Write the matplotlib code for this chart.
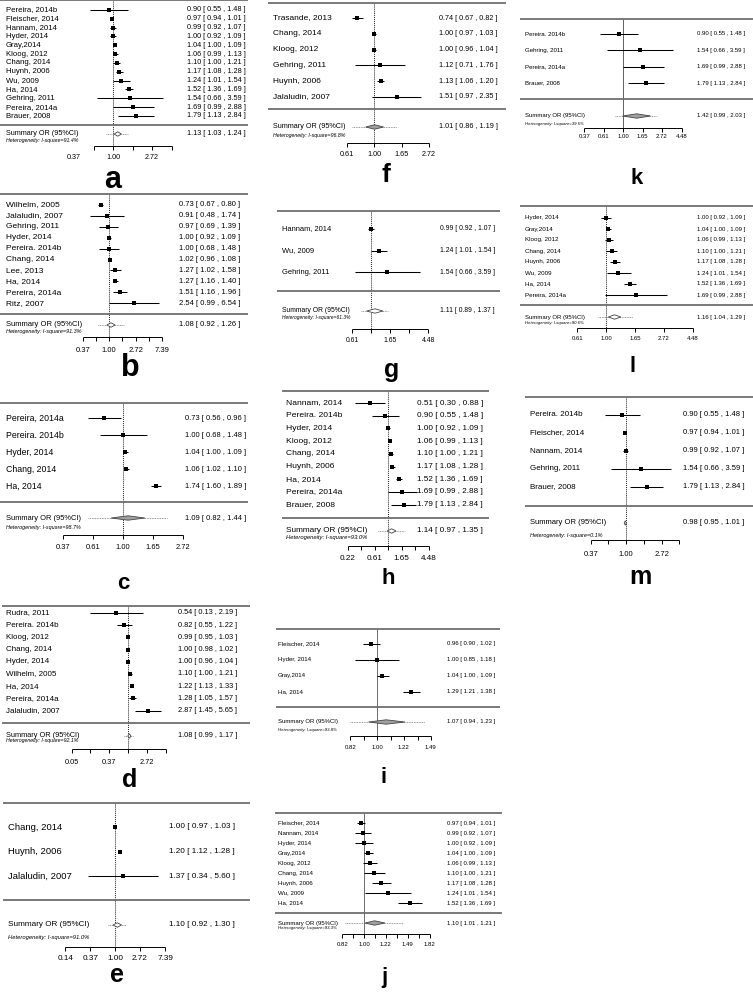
import numpy as np
import matplotlib
matplotlib.use("Agg")
import matplotlib.pyplot as plt

plt.rcParams['font.family'] = ['Liberation Sans', 'DejaVu Sans']

W, H = 753, 992

# ---- data (odds ratios, 95% CI) ----
a_studies = ['Pereira, 2014b', 'Fleischer, 2014', 'Hannam, 2014', 'Hyder, 2014', 'Gray,2014',
             'Kloog, 2012', 'Chang, 2014', 'Huynh, 2006', 'Wu, 2009', 'Ha, 2014',
             'Gehring, 2011', 'Pereira, 2014a', 'Brauer, 2008']
a_or = [0.90, 0.97, 0.99, 1.00, 1.04, 1.06, 1.10, 1.17, 1.24, 1.52, 1.54, 1.69, 1.79]
a_lo = [0.55, 0.94, 0.92, 0.92, 1.00, 0.99, 1.00, 1.08, 1.01, 1.36, 0.66, 0.99, 1.13]
a_hi = [1.48, 1.01, 1.07, 1.09, 1.09, 1.13, 1.21, 1.28, 1.54, 1.69, 3.59, 2.88, 2.84]
a_summary = [1.13, 1.03, 1.24]
a_pred = [0.84, 1.47]
a_i2 = '91.4'
a_ticklabels = ['0.37', '1.00', '2.72']

b_studies = ['Wilhelm, 2005', 'Jalaludin, 2007', 'Gehring, 2011', 'Hyder, 2014', 'Pereira. 2014b',
             'Chang, 2014', 'Lee, 2013', 'Ha, 2014', 'Pereira, 2014a', 'Ritz, 2007']
b_or = [0.73, 0.91, 0.97, 1.00, 1.00, 1.02, 1.27, 1.27, 1.51, 2.54]
b_lo = [0.67, 0.48, 0.69, 0.92, 0.68, 0.96, 1.02, 1.16, 1.16, 0.99]
b_hi = [0.80, 1.74, 1.39, 1.09, 1.48, 1.08, 1.58, 1.40, 1.96, 6.54]
b_summary = [1.08, 0.92, 1.26]
b_pred = [0.65, 1.76]
b_i2 = '91.3'
b_ticklabels = ['0.37', '1.00', '2.72', '7.39']

c_studies = ['Pereira, 2014a', 'Pereira. 2014b', 'Hyder, 2014', 'Chang, 2014', 'Ha, 2014']
c_or = [0.73, 1.00, 1.04, 1.06, 1.74]
c_lo = [0.56, 0.68, 1.00, 1.02, 1.60]
c_hi = [0.96, 1.48, 1.09, 1.10, 1.89]
c_summary = [1.09, 0.82, 1.44]
c_pred = [0.56, 2.08]
c_i2 = '98.7'
c_ticklabels = ['0.37', '0.61', '1.00', '1.65', '2.72']

d_studies = ['Rudra, 2011', 'Pereira. 2014b', 'Kloog, 2012', 'Chang, 2014', 'Hyder, 2014',
             'Wilhelm, 2005', 'Ha, 2014', 'Pereira, 2014a', 'Jalaludin, 2007']
d_or = [0.54, 0.82, 0.99, 1.00, 1.00, 1.10, 1.22, 1.28, 2.87]
d_lo = [0.13, 0.55, 0.95, 0.98, 0.96, 1.00, 1.13, 1.05, 1.45]
d_hi = [2.19, 1.22, 1.03, 1.02, 1.04, 1.21, 1.33, 1.57, 5.65]
d_summary = [1.08, 0.99, 1.17]
d_pred = [0.81, 1.30]
d_i2 = '92.1'
d_ticklabels = ['0.05', '0.37', '2.72']

e_studies = ['Chang, 2014', 'Huynh, 2006', 'Jalaludin, 2007']
e_or = [1.00, 1.20, 1.37]
e_lo = [0.97, 1.12, 0.34]
e_hi = [1.03, 1.28, 5.60]
e_summary = [1.10, 0.92, 1.30]
e_pred = [0.76, 1.55]
e_i2 = '91.0'
e_ticklabels = ['0.14', '0.37', '1.00', '2.72', '7.39']

f_studies = ['Trasande, 2013', 'Chang, 2014', 'Kloog, 2012', 'Gehring, 2011', 'Huynh, 2006',
             'Jalaludin, 2007']
f_or = [0.74, 1.00, 1.00, 1.12, 1.13, 1.51]
f_lo = [0.67, 0.97, 0.96, 0.71, 1.06, 0.97]
f_hi = [0.82, 1.03, 1.04, 1.76, 1.20, 2.35]
f_summary = [1.01, 0.86, 1.19]
f_pred = [0.67, 1.52]
f_i2 = '96.8'
f_ticklabels = ['0.61', '1.00', '1.65', '2.72']

g_studies = ['Hannam, 2014', 'Wu, 2009', 'Gehring, 2011']
g_or = [0.99, 1.24, 1.54]
g_lo = [0.92, 1.01, 0.66]
g_hi = [1.07, 1.54, 3.59]
g_summary = [1.11, 0.89, 1.37]
g_pred = [0.77, 1.57]
g_i2 = '61.3'
g_ticklabels = ['0.61', '1.65', '4.48']

h_studies = ['Nannam, 2014', 'Pereira. 2014b', 'Hyder, 2014', 'Kloog, 2012', 'Chang, 2014',
             'Huynh, 2006', 'Ha, 2014', 'Pereira, 2014a', 'Brauer, 2008']
h_or = [0.51, 0.90, 1.00, 1.06, 1.10, 1.17, 1.52, 1.69, 1.79]
h_lo = [0.30, 0.55, 0.92, 0.99, 1.00, 1.08, 1.36, 0.99, 1.13]
h_hi = [0.88, 1.48, 1.09, 1.13, 1.21, 1.28, 1.69, 2.88, 2.84]
h_summary = [1.14, 0.97, 1.35]
h_pred = [0.69, 1.88]
h_i2 = '93.0'
h_ticklabels = ['0.22', '0.61', '1.65', '4.48']

i_studies = ['Fleischer, 2014', 'Hyder, 2014', 'Gray,2014', 'Ha, 2014']
i_or = [0.96, 1.00, 1.04, 1.29]
i_lo = [0.90, 0.85, 1.00, 1.21]
i_hi = [1.02, 1.18, 1.09, 1.38]
i_summary = [1.07, 0.94, 1.23]
i_pred = [0.82, 1.43]
i_i2 = '93.8'
i_ticklabels = ['0.82', '1.00', '1.22', '1.49']

j_studies = ['Fleischer, 2014', 'Nannam, 2014', 'Hyder, 2014', 'Gray,2014', 'Kloog, 2012',
             'Chang, 2014', 'Huynh, 2006', 'Wu, 2009', 'Ha, 2014']
j_or = [0.97, 0.99, 1.00, 1.04, 1.06, 1.10, 1.17, 1.24, 1.52]
j_lo = [0.94, 0.92, 0.92, 1.00, 0.99, 1.00, 1.08, 1.01, 1.36]
j_hi = [1.01, 1.07, 1.09, 1.09, 1.13, 1.21, 1.28, 1.54, 1.69]
j_summary = [1.10, 1.01, 1.21]
j_pred = [0.84, 1.42]
j_i2 = '93.3'
j_ticklabels = ['0.82', '1.00', '1.22', '1.49', '1.82']

k_studies = ['Pereira. 2014b', 'Gehring, 2011', 'Pereira, 2014a', 'Brauer, 2008']
k_or = [0.90, 1.54, 1.69, 1.79]
k_lo = [0.55, 0.66, 0.99, 1.13]
k_hi = [1.48, 3.59, 2.88, 2.84]
k_summary = [1.42, 0.99, 2.03]
k_pred = [0.82, 2.39]
k_i2 = '39.5'
k_ticklabels = ['0.37', '0.61', '1.00', '1.65', '2.72', '4.48']

l_studies = ['Hyder, 2014', 'Gray,2014', 'Kloog, 2012', 'Chang, 2014', 'Huynh, 2006',
             'Wu, 2009', 'Ha, 2014', 'Pereira, 2014a']
l_or = [1.00, 1.04, 1.06, 1.10, 1.17, 1.24, 1.52, 1.69]
l_lo = [0.92, 1.00, 0.99, 1.00, 1.08, 1.01, 1.36, 0.99]
l_hi = [1.09, 1.09, 1.13, 1.21, 1.28, 1.54, 1.69, 2.88]
l_summary = [1.16, 1.04, 1.29]
l_pred = [0.87, 1.58]
l_i2 = '90.6'
l_ticklabels = ['0.61', '1.00', '1.65', '2.72', '4.48']

m_studies = ['Pereira. 2014b', 'Fleischer, 2014', 'Nannam, 2014', 'Gehring, 2011', 'Brauer, 2008']
m_or = [0.90, 0.97, 0.99, 1.54, 1.79]
m_lo = [0.55, 0.94, 0.92, 0.66, 1.13]
m_hi = [1.48, 1.01, 1.07, 3.59, 2.84]
m_summary = [0.98, 0.95, 1.01]
m_pred = [0.95, 1.01]
m_i2 = '0.1'
m_ticklabels = ['0.37', '1.00', '2.72']

# ---- layout in image pixels ----
layout = {
    'a': dict(x0=0, x1=248, top=0, ref=113, ppu=39, row0=10, dy=8.83, sep=125, summ=134, het=141,
              axis=146, tlab=158, lx=6, vx=187, fs=5.2, lfs=5.6, ax=(-0.5, 1.5, 0.5), letter=(113, 180, 22),
              ms=5, ref_style='dot', dfill='white'),
    'b': dict(x0=0, x1=248, top=194, ref=109, ppu=26.5, row0=205, dy=10.9, sep=314, summ=325, het=331,
              axis=337, tlab=351, lx=6, vx=179, fs=5.5, lfs=6.0, ax=(-1, 2, 0.5), letter=(130, 368, 22),
              ms=5, ref_style='dot', dfill='white'),
    'c': dict(x0=0, x1=248, top=403, ref=123, ppu=60, row0=418, dy=17, sep=502, summ=518, het=527,
              axis=535, tlab=547, lx=6, vx=185, fs=5.4, lfs=6.3, ax=(-1, 1, 0.5), letter=(123, 583, 16),
              ms=5, ref_style='dot', dfill='#a0a0a0'),
    'd': dict(x0=2, x1=250, top=606, ref=128, ppu=18.8, row0=613, dy=12.2, sep=723, summ=736, het=741,
              axis=749, tlab=763, lx=6, vx=178, fs=5.3, lfs=5.8, ax=(-3, 2, 1), letter=(130, 780, 18),
              ms=4.5, ref_style='dot', dfill='white'),
    'e': dict(x0=3, x1=250, top=803, ref=115, ppu=25, row0=827, dy=24.5, sep=900, summ=925, het=937,
              axis=947, tlab=958, lx=8, vx=169, fs=5.9, lfs=6.8, ax=(-2, 2, 1), letter=(117, 975, 18),
              ms=5, ref_style='dot', dfill='white'),
    'f': dict(x0=268, x1=506, top=3, ref=374, ppu=55, row0=18, dy=15.8, sep=109, summ=127, het=135,
              axis=143, tlab=155, lx=273, vx=439, fs=5.2, lfs=6.0, ax=(-0.5, 1, 0.5), letter=(386, 175, 19),
              ms=5, ref_style='dot', dfill='#a0a0a0'),
    'g': dict(x0=277, x1=500, top=211, ref=371, ppu=38, row0=229, dy=21.5, sep=291, summ=311, het=318,
              axis=329, tlab=341, lx=282, vx=440, fs=4.9, lfs=5.4, ax=(-0.5, 1.5, 0.5), letter=(392, 370, 18),
              ms=4, ref_style='dot', dfill='white'),
    'h': dict(x0=282, x1=489, top=391, ref=388, ppu=27, row0=403, dy=12.7, sep=518, summ=531, het=537,
              axis=546, tlab=558, lx=286, vx=417, fs=5.9, lfs=6.1, ax=(-1.5, 1.5, 0.5), letter=(388, 578, 16),
              ms=5, ref_style='dot', dfill='white'),
    'i': dict(x0=276, x1=500, top=629, ref=377, ppu=135, row0=644, dy=16, sep=707, summ=722, het=730,
              axis=736, tlab=748, lx=278, vx=447, fs=4.3, lfs=4.4, ax=(-0.2, 0.4, 0.1), letter=(384, 778, 16),
              ms=4, ref_style='solid', dfill='#a0a0a0'),
    'j': dict(x0=275, x1=502, top=813, ref=364, ppu=110, row0=823, dy=10, sep=913, summ=923, het=928,
              axis=934, tlab=945, lx=278, vx=447, fs=4.3, lfs=4.4, ax=(-0.2, 0.6, 0.1), letter=(384, 977, 16),
              ms=4.5, ref_style='solid', dfill='#a0a0a0'),
    'k': dict(x0=520, x1=753, top=19, ref=623, ppu=39, row0=34, dy=16.4, sep=99, summ=116, het=124,
              axis=128, tlab=137, lx=525, vx=697, fs=4.3, lfs=4.4, ax=(-1, 1.5, 0.5), letter=(637, 178, 16),
              ms=4, ref_style='thin', dfill='#a0a0a0'),
    'l': dict(x0=520, x1=753, top=206, ref=606, ppu=58, row0=218, dy=11, sep=305, summ=317, het=323,
              axis=328, tlab=338, lx=525, vx=697, fs=4.3, lfs=4.5, ax=(-0.5, 1.5, 0.5), letter=(633, 367, 16),
              ms=4, ref_style='dot', dfill='white'),
    'm': dict(x0=525, x1=753, top=397, ref=626, ppu=35.5, row0=415, dy=18, sep=506, summ=523, het=536,
              axis=540, tlab=555, lx=530, vx=683, fs=5.5, lfs=5.8, ax=(-1, 1.5, 0.5), letter=(640, 577, 18),
              ms=5, ref_style='dot', dfill='white'),
}

fig = plt.figure(figsize=(W / 100, H / 100), dpi=100)


def draw_panel(key, studies, ors, los, his, summary, pred, i2, ticklabels):
    L = layout[key]
    px2or = lambda px: np.exp((px - L['ref']) / L['ppu'])
    top = L['top'] - 3
    bottom = L['letter'][1] + 16
    ax = fig.add_axes([L['x0'] / W, 1 - bottom / H, (L['x1'] - L['x0']) / W, (bottom - top) / H])
    ax.set_xscale('log')
    ax.set_xlim(px2or(L['x0']), px2or(L['x1']))
    ax.set_ylim(bottom, top)
    ax.axis('off')
    fs = L['fs']

    rows = L['row0'] + np.arange(len(studies)) * L['dy']

    # frame lines
    ax.hlines([L['top'], L['sep']], px2or(L['x0']), px2or(L['x1']), color='#6e6e6e', lw=1.3,
              clip_on=False)
    # reference line at OR = 1
    if L['ref_style'] == 'solid':
        ax.vlines(1, L['top'], L['axis'], color='#555555', lw=0.6, zorder=1)
    elif L['ref_style'] == 'thin':
        ax.vlines(1, L['top'], L['axis'], color='#222222', lw=0.5, zorder=1)
    else:
        ax.vlines(1, L['top'], L['axis'], color='#222222', lw=0.7, linestyles=(0, (1, 1)), zorder=1)

    # studies
    ax.hlines(rows, los, his, color='black', lw=0.75, zorder=2)
    ax.scatter(ors, rows, marker='s', s=(L['ms'] * 0.72) ** 2, color='black', zorder=3, linewidths=0)
    for y, name, o, lo, hi in zip(rows, studies, ors, los, his):
        ax.text(px2or(L['lx']), y, name, ha='left', va='center', fontsize=L['lfs'])
        ax.text(px2or(L['vx']), y, f'{o:.2f} [ {lo:.2f} , {hi:.2f} ]', ha='left', va='center',
                fontsize=fs)

    # summary
    s, slo, shi = summary
    ys = L['summ']
    ax.hlines(ys, pred[0], pred[1], color='#777777', lw=0.6, linestyles=(0, (1, 1)), zorder=2)
    ax.fill([slo, s, shi, s], [ys, ys - 2.2, ys, ys + 2.2], facecolor=L['dfill'],
            edgecolor='#444444', lw=0.6, zorder=3)
    ax.text(px2or(L['lx']), ys, 'Summary OR (95%CI)', ha='left', va='center', fontsize=fs)
    ax.text(px2or(L['vx']), ys, f'{s:.2f} [ {slo:.2f} , {shi:.2f} ]', ha='left', va='center',
            fontsize=fs)
    ax.text(px2or(L['lx']), L['het'], f'Heterogeneity: I-square={i2}%', ha='left', va='center',
            fontsize=fs * 0.72, style='italic')

    # x axis
    lo_l, hi_l, step = L['ax']
    tick_logs = np.arange(lo_l, hi_l + step / 2, step)
    ax.hlines(L['axis'], np.exp(lo_l), np.exp(hi_l), color='black', lw=0.7)
    ax.vlines(np.exp(tick_logs), L['axis'], L['axis'] + 4, color='black', lw=0.7)
    for t in ticklabels:
        ax.text(float(t), L['tlab'], t, ha='center', va='center', fontsize=fs)

    lx, ly, lsize = L['letter']
    ax.text(px2or(lx), ly, key, ha='center', va='center', fontsize=lsize, fontweight='bold')


draw_panel('a', a_studies, a_or, a_lo, a_hi, a_summary, a_pred, a_i2, a_ticklabels)
draw_panel('b', b_studies, b_or, b_lo, b_hi, b_summary, b_pred, b_i2, b_ticklabels)
draw_panel('c', c_studies, c_or, c_lo, c_hi, c_summary, c_pred, c_i2, c_ticklabels)
draw_panel('d', d_studies, d_or, d_lo, d_hi, d_summary, d_pred, d_i2, d_ticklabels)
draw_panel('e', e_studies, e_or, e_lo, e_hi, e_summary, e_pred, e_i2, e_ticklabels)
draw_panel('f', f_studies, f_or, f_lo, f_hi, f_summary, f_pred, f_i2, f_ticklabels)
draw_panel('g', g_studies, g_or, g_lo, g_hi, g_summary, g_pred, g_i2, g_ticklabels)
draw_panel('h', h_studies, h_or, h_lo, h_hi, h_summary, h_pred, h_i2, h_ticklabels)
draw_panel('i', i_studies, i_or, i_lo, i_hi, i_summary, i_pred, i_i2, i_ticklabels)
draw_panel('j', j_studies, j_or, j_lo, j_hi, j_summary, j_pred, j_i2, j_ticklabels)
draw_panel('k', k_studies, k_or, k_lo, k_hi, k_summary, k_pred, k_i2, k_ticklabels)
draw_panel('l', l_studies, l_or, l_lo, l_hi, l_summary, l_pred, l_i2, l_ticklabels)
draw_panel('m', m_studies, m_or, m_lo, m_hi, m_summary, m_pred, m_i2, m_ticklabels)

fig.savefig('out.png', dpi=100)
